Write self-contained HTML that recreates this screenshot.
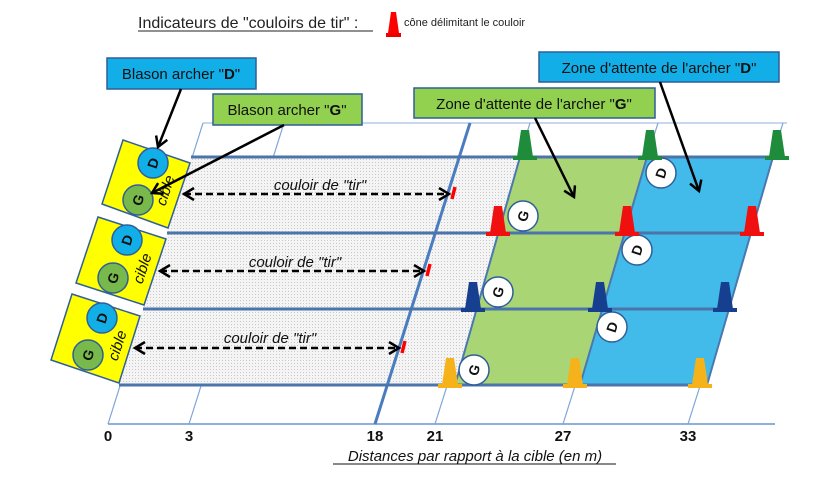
<!DOCTYPE html>
<html><head><meta charset="utf-8"><style>
html,body{margin:0;padding:0;background:#fff;}
svg{display:block;font-family:"Liberation Sans",sans-serif;}
</style></head><body>
<svg width="830" height="492" viewBox="0 0 830 492" xmlns="http://www.w3.org/2000/svg">
<defs>
<pattern id="dots" width="3" height="3" patternUnits="userSpaceOnUse"><rect width="3" height="3" fill="#f4f4f4"/><rect width="1" height="1" fill="#c8c8c8"/></pattern>
<marker id="ah" markerWidth="10" markerHeight="10" refX="8" refY="5" orient="auto" markerUnits="userSpaceOnUse"><path d="M1,1 L8,5 L1,9" fill="none" stroke="#000" stroke-width="2"/></marker>
<marker id="ah2" markerWidth="14" markerHeight="14" refX="11" refY="7" orient="auto" markerUnits="userSpaceOnUse"><path d="M1,1 L11,7 L1,13" fill="none" stroke="#000" stroke-width="2.5"/></marker>
<marker id="ahs" markerWidth="14" markerHeight="14" refX="3" refY="7" orient="auto" markerUnits="userSpaceOnUse"><path d="M13,1 L3,7 L13,13" fill="none" stroke="#000" stroke-width="2.5"/></marker>
<g id="cone"><path d="M-4,-30 L4,-30 L8,-3 L-8,-3 Z"/><rect x="-12" y="-4" width="24" height="4"/></g>
</defs>

<!-- header -->
<text x="138" y="28" font-size="16" fill="#222">Indicateurs de "couloirs de tir" :</text>
<line x1="138" y1="31" x2="373" y2="31" stroke="#222" stroke-width="1"/>
<path d="M391,12 L396,12 L399,33 L388,33 Z" fill="#f00"/><rect x="386" y="33" width="15" height="4" fill="#e00"/>
<text x="404" y="26" font-size="11" fill="#222">cône délimitant le couloir</text>

<!-- frame -->
<line x1="203" y1="123" x2="787" y2="123" stroke="#8fb0dc" stroke-width="1"/>
<line x1="108" y1="424" x2="775" y2="424" stroke="#8fb0dc" stroke-width="2"/>
<g stroke="#7ea6d8" stroke-width="1.2">
<line x1="108" y1="424" x2="203" y2="123"/>
<line x1="189" y1="424" x2="284" y2="123"/>
<line x1="435" y1="424" x2="530" y2="123"/>
<line x1="563" y1="424" x2="658" y2="123"/>
<line x1="688" y1="424" x2="783" y2="123"/>
</g>

<!-- lanes gray -->
<polygon points="191,157 560,157 488,385 119,385" fill="url(#dots)"/>
<!-- green -->
<polygon points="520,157 647,157 580,385 455,385" fill="#a9d574"/>
<!-- blue -->
<polygon points="647,157 773,157 707,385 580,385" fill="#43bbea"/>
<g stroke="#4a78b0" stroke-width="2"><line x1="520" y1="157" x2="455" y2="385"/><line x1="647" y1="157" x2="580" y2="385"/><line x1="773" y1="157" x2="707" y2="385"/></g>
<!-- 18 thick line -->
<line x1="375" y1="424" x2="470" y2="123" stroke="#4a7cc0" stroke-width="3"/>
<!-- lane dividers -->
<g stroke="#4a74aa" stroke-width="3">
<line x1="191" y1="157" x2="773" y2="157"/>
<line x1="167" y1="233" x2="751" y2="233"/>
<line x1="143" y1="309" x2="729" y2="309"/>
<line x1="119" y1="385" x2="707" y2="385"/>
</g>

<!-- cible boxes -->
<g stroke="#2f5f99" stroke-width="1.5" fill="#ffff00">
<polygon points="123,140 190,163 168,228 102,204"/>
<polygon points="98,217 166,239 144,305 76,283"/>
<polygon points="72,294 140,316 119,383 51,360"/>
</g>
<g stroke="#2f5f99" stroke-width="1.5">
<circle cx="153" cy="163" r="15" fill="#12aee8"/><circle cx="138" cy="200" r="15" fill="#78b94c"/>
<circle cx="127" cy="240" r="15" fill="#12aee8"/><circle cx="113" cy="278" r="15" fill="#78b94c"/>
<circle cx="102" cy="318" r="15" fill="#12aee8"/><circle cx="88" cy="355" r="15" fill="#78b94c"/>
</g>
<g font-size="14" font-weight="bold" text-anchor="middle" fill="#111">
<text transform="translate(153,163) rotate(-72)" y="5">D</text>
<text transform="translate(138,200) rotate(-72)" y="5">G</text>
<text transform="translate(127,240) rotate(-72)" y="5">D</text>
<text transform="translate(113,278) rotate(-72)" y="5">G</text>
<text transform="translate(102,318) rotate(-72)" y="5">D</text>
<text transform="translate(88,355) rotate(-72)" y="5">G</text>
</g>
<g font-size="15" font-style="italic" text-anchor="middle" fill="#111">
<text transform="translate(170,192) rotate(-72)">cible</text>
<text transform="translate(147,270) rotate(-72)">cible</text>
<text transform="translate(122,347) rotate(-72)">cible</text>
</g>

<!-- couloir arrows -->
<g stroke="#000" stroke-width="2.5" stroke-dasharray="7,4" fill="none">
<line x1="184" y1="194" x2="449" y2="194" marker-start="url(#ahs)" marker-end="url(#ah2)"/>
<line x1="160" y1="271" x2="424" y2="271" marker-start="url(#ahs)" marker-end="url(#ah2)"/>
<line x1="135" y1="348" x2="399" y2="348" marker-start="url(#ahs)" marker-end="url(#ah2)"/>
</g>
<g stroke="#f00" stroke-width="3.5"><line x1="455" y1="187" x2="452" y2="199"/><line x1="430" y1="264" x2="427" y2="276"/><line x1="405" y1="341" x2="402" y2="353"/></g>
<g font-size="15" font-style="italic" text-anchor="middle" fill="#111">
<text x="320" y="190">couloir de "tir"</text>
<text x="295" y="267">couloir de "tir"</text>
<text x="270" y="343">couloir de "tir"</text>
</g>

<!-- G/D markers -->
<g stroke="#2f5f99" stroke-width="1.5" fill="#fff">
<circle cx="523" cy="216" r="15"/><circle cx="498" cy="292" r="15"/><circle cx="474" cy="370" r="15"/>
<circle cx="661" cy="173" r="15"/><circle cx="637" cy="250" r="15"/><circle cx="612" cy="327" r="15"/>
</g>
<g font-size="14" font-weight="bold" text-anchor="middle" fill="#111">
<text transform="translate(523,216) rotate(-72)" y="5">G</text>
<text transform="translate(498,292) rotate(-72)" y="5">G</text>
<text transform="translate(474,370) rotate(-72)" y="5">G</text>
<text transform="translate(661,173) rotate(-72)" y="5">D</text>
<text transform="translate(637,250) rotate(-72)" y="5">D</text>
<text transform="translate(612,327) rotate(-72)" y="5">D</text>
</g>

<!-- cones -->
<g fill="#1e8c3a"><use href="#cone" x="525" y="160"/><use href="#cone" x="650" y="160"/><use href="#cone" x="777" y="160"/></g>
<g fill="#f01010"><use href="#cone" x="498" y="236"/><use href="#cone" x="627" y="236"/><use href="#cone" x="752" y="236"/></g>
<g fill="#173f8f"><use href="#cone" x="473" y="312"/><use href="#cone" x="600" y="312"/><use href="#cone" x="725" y="312"/></g>
<g fill="#f5b21a"><use href="#cone" x="450" y="388"/><use href="#cone" x="575" y="388"/><use href="#cone" x="700" y="388"/></g>

<!-- callouts -->
<g stroke="#2f5f99" stroke-width="1.5">
<rect x="107" y="58" width="149" height="31" fill="#12aee8"/>
<rect x="213" y="94" width="149" height="31" fill="#92d050"/>
<rect x="414" y="88" width="241" height="30" fill="#92d050"/>
<rect x="539" y="52" width="240" height="30" fill="#12aee8"/>
</g>
<g font-size="15" fill="#111" text-anchor="middle">
<text x="181" y="79">Blason archer "<tspan font-weight="bold">D</tspan>"</text>
<text x="287" y="115">Blason archer "<tspan font-weight="bold">G</tspan>"</text>
<text x="534" y="109">Zone d'attente de l'archer "<tspan font-weight="bold">G</tspan>"</text>
<text x="659" y="73">Zone d'attente de l'archer "<tspan font-weight="bold">D</tspan>"</text>
</g>
<g stroke="#000" stroke-width="2.5" fill="none">
<line x1="181" y1="89" x2="158" y2="147" marker-end="url(#ah2)"/>
<line x1="284" y1="125" x2="152" y2="193" marker-end="url(#ah2)"/>
<line x1="535" y1="118" x2="574" y2="197" marker-end="url(#ah2)"/>
<line x1="660" y1="82" x2="699" y2="191" marker-end="url(#ah2)"/>
</g>

<!-- axis labels -->
<g font-size="15" font-weight="bold" text-anchor="middle" fill="#111">
<text x="108" y="441">0</text><text x="189" y="441">3</text><text x="375" y="441">18</text>
<text x="435" y="441">21</text><text x="563" y="441">27</text><text x="688" y="441">33</text>
</g>
<text x="475" y="461" font-size="15" font-style="italic" text-anchor="middle" fill="#111">Distances par rapport à la cible (en m)</text>
<line x1="333" y1="464" x2="616" y2="464" stroke="#111" stroke-width="1"/>
</svg>
</body></html>
